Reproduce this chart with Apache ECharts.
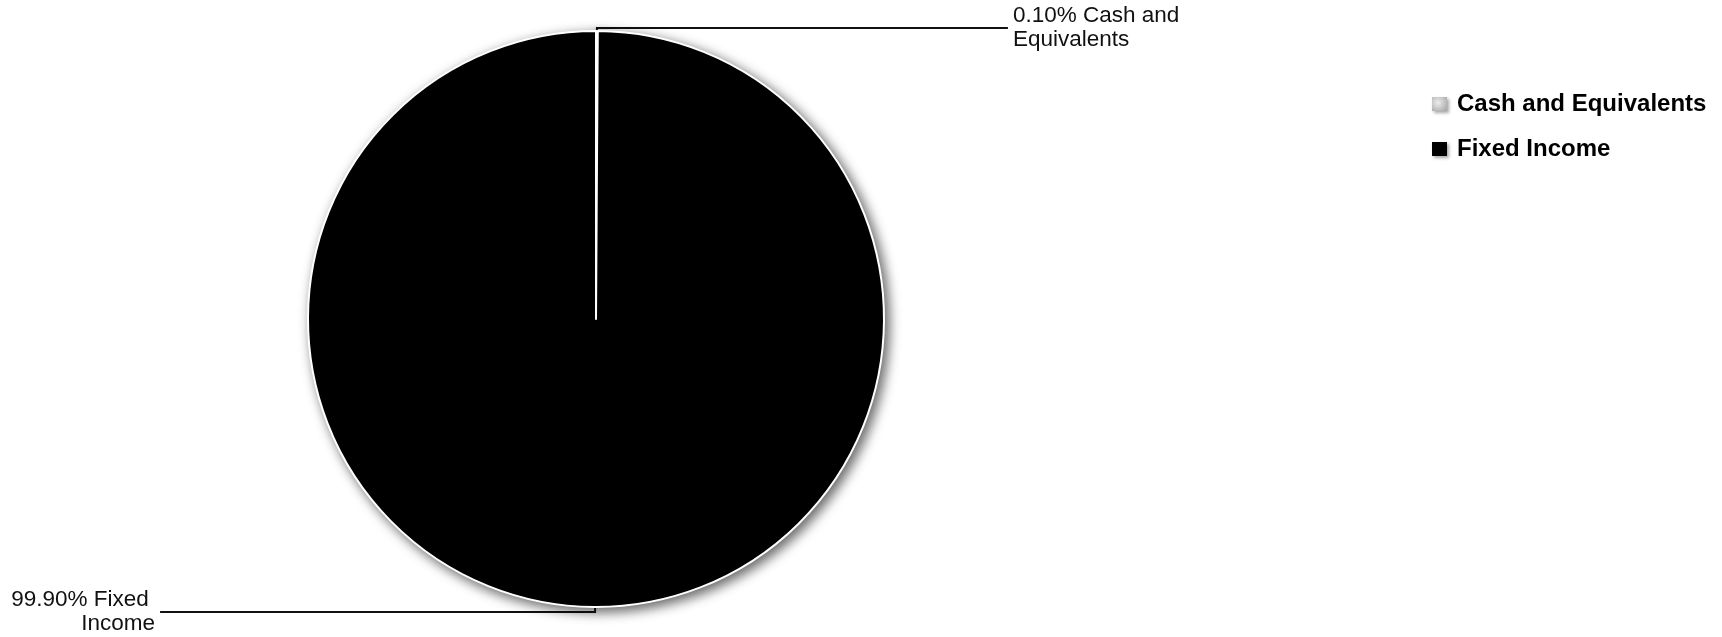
<!DOCTYPE html>
<html>
<head>
<meta charset="utf-8">
<script src="https://cdn.jsdelivr.net/npm/echarts@6/dist/echarts.min.js"></script>
<style>
html,body{margin:0;padding:0;background:#fff;}
#chart{width:1722px;height:637px;}
</style>
</head>
<body>
<div id="chart"></div>
<script>
// ---- data ----
const categories = ['Cash and Equivalents', 'Fixed Income'];
const values = [0.10, 99.90];
// how each label's category text wraps (line 1 tail, line 2)
const labelNameLines = [['Cash and', 'Equivalents'], ['Fixed ', 'Income']];

// ---- styles ----
const sliceColors = [
  new echarts.graphic.RadialGradient(0.4, 0.4, 0.8, [
    {offset: 0, color: '#ececec'}, {offset: 1, color: '#a8a8a8'}
  ]),
  '#000000'
];
const lineLengths = [[3, 411], [5, 435]];

const chart = echarts.init(document.getElementById('chart'), null, {renderer: 'canvas'});

const data = categories.map((name, i) => ({
  name: name,
  value: values[i],
  itemStyle: {color: sliceColors[i]},
  labelLine: {length: lineLengths[i][0], length2: lineLengths[i][1]}
}));

chart.setOption({
  animation: false,
  backgroundColor: '#ffffff',
  legend: {
    orient: 'vertical',
    left: 1427,
    top: 87,
    icon: 'rect',
    itemWidth: 15,
    itemHeight: 14,
    itemGap: 21,
    selectedMode: false,
    data: categories,
    itemStyle: {
      borderWidth: 0,
      shadowBlur: 3,
      shadowOffsetX: 2,
      shadowOffsetY: 2,
      shadowColor: 'rgba(0,0,0,0.35)'
    },
    textStyle: {
      fontFamily: 'Liberation Sans, Arial, sans-serif',
      fontSize: 24,
      fontWeight: 'bold',
      color: '#000',
      padding: [0, 0, 0, 5]
    }
  },
  series: [{
    type: 'pie',
    center: [596, 319],
    radius: 288,
    startAngle: 90,
    clockwise: true,
    avoidLabelOverlap: false,
    silent: true,
    emphasis: {disabled: true},
    itemStyle: {
      borderColor: '#ffffff',
      borderWidth: 2,
      shadowBlur: 12,
      shadowOffsetX: 4,
      shadowOffsetY: 4,
      shadowColor: 'rgba(0,0,0,0.6)'
    },
    label: {
      show: true,
      position: 'outside',
      fontFamily: 'Liberation Sans, Arial, sans-serif',
      fontSize: 22.5,
      lineHeight: 24,
      color: '#111',
      distanceToLabelLine: 5,
      formatter: function (p) {
        const parts = labelNameLines[p.dataIndex];
        return p.value.toFixed(2) + '% ' + parts[0] + '\n' + parts[1];
      }
    },
    labelLine: {
      show: true,
      smooth: false,
      lineStyle: {color: '#111', width: 2, shadowBlur: 0, shadowOffsetX: 0, shadowOffsetY: 0}
    },
    data: data
  }]
});
</script>
</body>
</html>
